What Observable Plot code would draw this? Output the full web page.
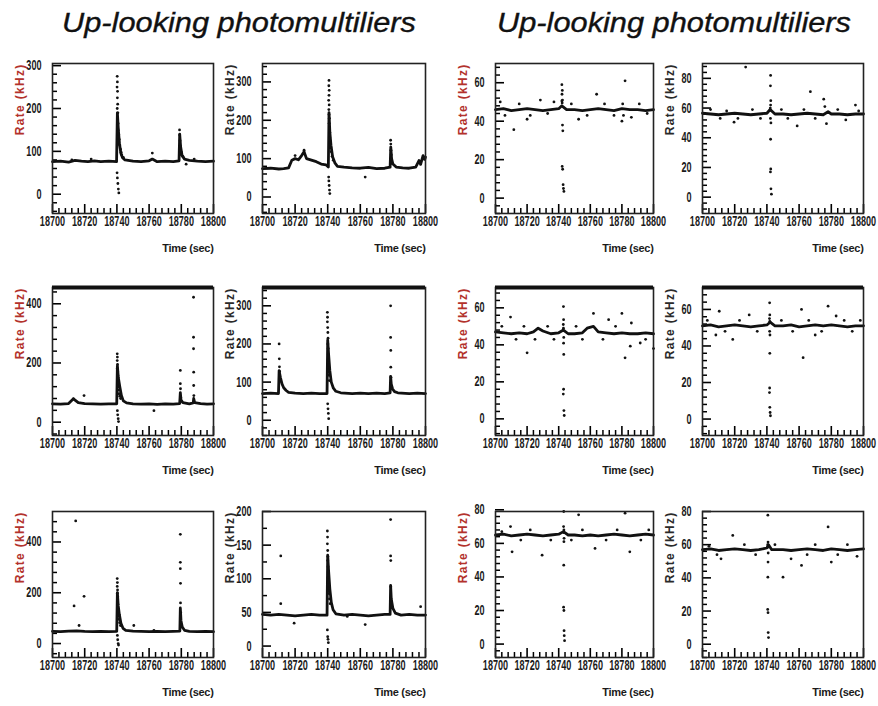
<!DOCTYPE html>
<html><head><meta charset="utf-8">
<script src="https://cdn.jsdelivr.net/npm/d3@7"></script>
<script src="https://cdn.jsdelivr.net/npm/@observablehq/plot@0.6"></script>
<style>
body{margin:0;background:#fff;}
#wrap{width:878px;height:706px;background:#fff;}
</style></head><body><div id="wrap"></div>
<script>
// ---------- text ----------
const titles = ["Up-looking photomultiliers", "Up-looking photomultiliers"];
const yLabel = "Rate (kHz)";
const xLabel = "Time (sec)";
const xTicks = [18700, 18720, 18740, 18760, 18780, 18800];

// ---------- y-axis ranges & tick labels ----------
const dom1 = [-45, 305],  ticks1 = [0, 100, 200, 300];
const dom2 = [-43, 348],  ticks2 = [0, 100, 200, 300];
const dom3 = [-8, 70],    ticks3 = [0, 20, 40, 60];
const dom4 = [-11, 90],   ticks4 = [0, 20, 40, 60, 80];
const dom5 = [-45, 455],  ticks5 = [0, 200, 400];
const dom6 = [-40, 348],  ticks6 = [0, 100, 200, 300];
const dom7 = [-9, 71],    ticks7 = [0, 20, 40, 60];
const dom8 = [-9, 72],    ticks8 = [0, 20, 40, 60];
const dom9 = [-55, 520],  ticks9 = [0, 200, 400];
const dom10 = [-17, 200], ticks10 = [0, 50, 100, 150, 200];
const dom11 = [-8, 79],   ticks11 = [0, 20, 40, 60, 80];
const dom12 = [-8, 80],   ticks12 = [0, 20, 40, 60, 80];
const minorStep = [20, 20, 4, 4, 40, 20, 4, 4, 40, 25, 4, 4];

// ---------- baseline traces [time, rate] ----------
const line1 = [[18700,76],[18705,77],[18710,75],[18714,79],[18718,77],[18722,76],[18726,78],[18730,76],[18735,77],[18739.8,76],[18740.3,190],[18740.9,150],[18741.6,118],[18742.5,95],[18743.5,85],[18745,80],[18750,77],[18755,76],[18760,78],[18762,82],[18765,76],[18770,77],[18775,76],[18778.6,78],[18779,140],[18779.6,110],[18780.5,90],[18782,82],[18785,79],[18790,77],[18795,76],[18800,77]];
const line2 = [[18700,74],[18705,75],[18710,73],[18713,74],[18716,76],[18718,96],[18720,100],[18722,97],[18724,108],[18725.5,118],[18727,100],[18730,96],[18733,92],[18736,86],[18739,84],[18740.4,78],[18740.8,220],[18741.3,170],[18742,135],[18743,105],[18744.5,88],[18746,80],[18750,78],[18755,76],[18760,75],[18765,77],[18770,74],[18775,75],[18778.3,78],[18778.7,130],[18779.2,100],[18780,86],[18782,78],[18786,76],[18790,75],[18794,78],[18796,95],[18797,85],[18798.5,108],[18799.5,98],[18800,104]];
const line3 = [[18700,46],[18705,46.5],[18710,45.5],[18715,46],[18720,46.5],[18725,46],[18730,45.5],[18735,46],[18740,46.5],[18742,48],[18745,46],[18750,46],[18755,45.5],[18760,46],[18765,46.5],[18770,46],[18775,45.5],[18780,46.5],[18785,46],[18790,46],[18795,45.5],[18800,46]];
const line4 = [[18700,56.5],[18705,56],[18710,55.5],[18715,56],[18720,56.5],[18725,56],[18730,55.5],[18735,56],[18740,56.5],[18742,59],[18745,56],[18750,56],[18755,55.5],[18760,56],[18765,56.5],[18770,56],[18775,55.5],[18778,57.5],[18780,56],[18785,56],[18790,55.5],[18795,56],[18800,56]];
const line5 = [[18700,62],[18705,61],[18710,63],[18713,79],[18716,66],[18720,63],[18725,62],[18730,61],[18735,62],[18739.9,62],[18740.3,190],[18740.9,150],[18741.8,120],[18742.8,90],[18744,72],[18746,65],[18750,62],[18755,61],[18760,62],[18765,60],[18770,62],[18775,61],[18779,63],[18779.4,100],[18779.8,75],[18781,66],[18785,62],[18787.4,65],[18787.7,80],[18788.3,66],[18792,63],[18796,61],[18800,62]];
const line6 = [[18700,70],[18705,71],[18709.8,70],[18710.2,130],[18711,112],[18712,95],[18713,85],[18714.5,78],[18716,73],[18720,71],[18725,70],[18730,71],[18735,70],[18739.6,70],[18740,210],[18740.6,170],[18741.3,130],[18742.2,100],[18743.5,84],[18745,76],[18748,72],[18755,70],[18760,71],[18765,70],[18770,71],[18775,70],[18778.3,72],[18778.6,115],[18779,95],[18779.8,82],[18781,75],[18783,72],[18790,70],[18795,71],[18800,70]];
const line7 = [[18700,47],[18705,46.5],[18710,46],[18715,46.5],[18720,46],[18724,47],[18727,49],[18730,47.5],[18735,46],[18740,46.5],[18743,48],[18746,46],[18750,46],[18755,46.5],[18758,49],[18762,50],[18765,47],[18770,46.5],[18775,46],[18780,46.5],[18785,46],[18790,46],[18795,46.5],[18800,46]];
const line8 = [[18700,51],[18705,51.5],[18710,50.5],[18715,51],[18720,51.5],[18725,51],[18730,50.5],[18735,51],[18740,51.5],[18742,53],[18745,51],[18750,51],[18755,51.5],[18760,50.5],[18765,51],[18770,51.5],[18775,51],[18780,51.5],[18785,51],[18790,50.5],[18795,51],[18800,51]];
const line9 = [[18700,48],[18705,47],[18710,49],[18715,50],[18720,48],[18725,47],[18730,48],[18735,47],[18739.9,48],[18740.3,200],[18740.8,150],[18741.5,115],[18742.5,80],[18743.8,60],[18745.5,52],[18750,49],[18755,48],[18760,47],[18765,48],[18770,47],[18775,48],[18779.1,49],[18779.4,140],[18779.8,90],[18780.6,65],[18782,52],[18785,48],[18790,47],[18795,48],[18800,47]];
const line10 = [[18700,47],[18705,46],[18710,47],[18715,46],[18720,45],[18725,46],[18730,47],[18735,46],[18739.6,46],[18740,135],[18740.6,110],[18741.3,85],[18742.2,65],[18743.3,54],[18745,48],[18750,46],[18755,47],[18760,46],[18765,45],[18770,46],[18775,47],[18778.3,47],[18778.6,90],[18779,70],[18780,56],[18781.5,49],[18785,46],[18790,47],[18795,46],[18800,46]];
const line11 = [[18700,65],[18705,65.5],[18710,64.5],[18715,65],[18720,65.5],[18725,65],[18730,64.5],[18735,65],[18740,65.5],[18743,67],[18746,65],[18750,65],[18755,64.5],[18760,65],[18765,64.5],[18770,65],[18775,65.5],[18780,65],[18785,64.5],[18790,65],[18795,65.5],[18800,65]];
const line12 = [[18700,57],[18705,57.5],[18710,56.5],[18715,57],[18720,57.5],[18725,57],[18730,56.5],[18735,57],[18740,58],[18741,60],[18743,57],[18750,57],[18755,56.5],[18760,57],[18765,57.5],[18770,57],[18775,56.5],[18780,57.5],[18785,57],[18790,56.5],[18795,57],[18800,57.5]];

// ---------- individual measurements [time, rate] ----------
const dots1 = [[18740.2,275],[18740.3,262],[18740.1,250],[18740.4,240],[18740.3,225],[18740.5,210],[18740.2,200],[18740.6,190],[18740.4,178],[18740.7,165],[18740.9,150],[18741.1,140],[18741.4,128],[18741.8,115],[18742.2,105],[18742.6,98],[18743,92],[18744,86],[18740.1,50],[18740.3,38],[18740.6,25],[18740.9,12],[18741.2,3],[18778.9,150],[18779,138],[18779.2,125],[18779.4,112],[18780,98],[18781,88],[18762,96],[18724,82],[18712,80],[18783,70],[18788,82]];
const dots2 = [[18740.8,304],[18740.7,290],[18740.9,278],[18740.8,265],[18740.6,252],[18740.9,240],[18740.7,228],[18740.8,215],[18741,205],[18740.9,192],[18741.1,180],[18741.3,168],[18741.2,155],[18741.5,142],[18741.8,130],[18742.2,118],[18742.7,106],[18743.4,96],[18740.6,52],[18740.7,42],[18740.9,30],[18741.1,18],[18741.3,9],[18778.6,148],[18778.7,138],[18778.8,122],[18779,110],[18763,52],[18725.5,122],[18720,108]];
const dots3 = [[18742,59],[18742.3,56],[18742.1,54],[18742.4,51],[18742.2,49.5],[18742,50.5],[18742.6,35],[18742.4,38],[18742.2,16.5],[18742.5,15],[18742.8,7],[18743,5],[18743.3,3.5],[18711.6,35.6],[18782,61],[18764,54],[18752.6,41],[18780,40],[18786,42],[18720,41],[18728.4,51],[18703,50],[18706,43],[18715,49],[18722,43],[18733,44],[18737,50],[18748,49],[18758,43],[18769,49],[18775,43],[18791,49],[18796,44],[18780.5,49],[18781,43]];
const dots4 = [[18742.3,82],[18742.2,75],[18742.4,65],[18742.3,62],[18742.1,60],[18742.4,58.5],[18742.2,53],[18742.5,50],[18742.3,39],[18742.4,19],[18742.2,17],[18742.5,5.6],[18742.8,2],[18726.8,87.6],[18767,71],[18775.3,66],[18719.6,50.5],[18758.8,48],[18777,49.5],[18795,62],[18705,59],[18711,53],[18715,58],[18722,53],[18731,59],[18736,53],[18749,59],[18753,53],[18763,59],[18770,53],[18776,61],[18784,59],[18789,52],[18797,58]];
const dots5 = [[18740.2,231],[18740.3,220],[18740.2,208],[18740.4,195],[18740.3,182],[18740.5,170],[18740.6,158],[18740.5,145],[18740.7,132],[18740.9,120],[18741.1,108],[18741.3,96],[18741.8,88],[18742.3,80],[18740.3,39],[18740.5,25],[18740.8,12],[18741,2],[18779.4,175],[18779.4,130],[18779.5,113],[18779.6,84],[18779.8,73],[18787.6,422],[18787.6,287],[18787.6,248],[18787.7,169],[18787.7,124],[18787.8,90],[18719.6,90],[18763,39],[18713,79]];
const dots6 = [[18710.2,200],[18710.3,161],[18710.4,140],[18710.5,128],[18739.8,283],[18739.9,270],[18739.8,258],[18740,243],[18740.1,230],[18740.2,215],[18740.1,200],[18740.3,188],[18740.4,172],[18740.3,158],[18740.5,145],[18740.6,132],[18740.8,118],[18741,104],[18740,43],[18740.2,30],[18740.4,18],[18740.6,4],[18778.6,300],[18778.6,217],[18778.7,183],[18778.7,139],[18778.8,113]];
const dots7 = [[18743,60.7],[18743.1,53.6],[18742.9,51],[18743,49],[18743.2,44],[18743.1,40.9],[18743.2,34.8],[18743.1,16],[18742.9,13.4],[18743.3,4.5],[18743.5,1.8],[18709.5,55],[18720,35.7],[18762,57],[18771.6,53.6],[18780,57],[18786,51.8],[18785.3,39.3],[18782,33],[18791.6,41],[18800,38],[18704,50],[18713,43],[18718,50],[18725,43],[18733,50],[18737,43],[18751,50],[18755,43],[18768,43],[18776,50],[18795,43]];
const dots8 = [[18741.7,63.6],[18741.8,57],[18741.6,55],[18741.8,53.5],[18741.7,48],[18741.9,46],[18741.8,36],[18741.7,17],[18741.6,14.5],[18741.8,6.4],[18742,3.6],[18742.2,1.8],[18718.8,43.6],[18762.5,33.6],[18761.5,60],[18778,61.8],[18710.4,59],[18729,57],[18708.3,46],[18770,46],[18783,56.4],[18703,54],[18714,48],[18723,54],[18734,48],[18749,54],[18756,48],[18766,54],[18774,48],[18788,54],[18793,48],[18798,54]];
const dots9 = [[18740.2,256],[18740.3,240],[18740.2,225],[18740.4,211],[18740.3,198],[18740.5,185],[18740.4,170],[18740.6,155],[18740.5,140],[18740.8,125],[18741,110],[18741.3,95],[18741.7,82],[18742.2,71],[18740.3,32],[18740.5,15],[18740.8,0],[18741,-6],[18779.4,430],[18779.4,320],[18779.4,295],[18779.5,237],[18779.5,160],[18779.6,122],[18714.4,483],[18713.4,148],[18719.6,186],[18716.5,71],[18750.5,71],[18763,52]];
const dots10 = [[18739.8,171],[18739.9,162],[18739.8,152],[18740,142],[18740.1,133],[18740,127],[18740.2,118],[18740.3,110],[18740.2,102],[18740.4,95],[18740.6,86],[18740.8,78],[18741.1,70],[18741.5,63],[18739.8,24],[18740,14],[18740.2,10],[18740.4,5],[18778.6,188],[18778.6,134],[18778.7,127],[18778.7,88],[18778.8,68],[18711.2,134],[18711.2,63],[18719.4,34],[18763,32],[18797,58.5],[18752,44]];
const dots11 = [[18743.2,79],[18743.1,70],[18743.3,68],[18743.2,66.5],[18743.4,63],[18743.3,61],[18743.2,47],[18743.1,22],[18743.3,20],[18743.4,8],[18743.5,5],[18743.7,2],[18710.5,55],[18729.5,53],[18752.6,77],[18763,57],[18785,55],[18709.5,70],[18782,78],[18704,67],[18716,62],[18722,68],[18735,62],[18748,62],[18755,68],[18770,62],[18777,68],[18792,62],[18797,68]];
const dots12 = [[18740.6,77.8],[18740.7,61.6],[18740.5,60],[18740.6,58.5],[18740.8,55],[18740.7,49.5],[18740.6,40.4],[18740.5,21],[18740.7,19],[18740.8,7],[18741,4],[18718.8,65.6],[18750,40.4],[18761.5,47.5],[18778,70.7],[18780,49.5],[18711.5,51.5],[18755,51.5],[18704,59],[18709,54],[18726,60],[18733,54],[18745,60],[18765,54],[18770,60],[18784,54],[18790,60],[18796,53]];

// ---------- assemble ----------
const lines = [line1,line2,line3,line4,line5,line6,line7,line8,line9,line10,line11,line12];
const dots = [dots1,dots2,dots3,dots4,dots5,dots6,dots7,dots8,dots9,dots10,dots11,dots12];
const doms = [dom1,dom2,dom3,dom4,dom5,dom6,dom7,dom8,dom9,dom10,dom11,dom12];
const ticks = [ticks1,ticks2,ticks3,ticks4,ticks5,ticks6,ticks7,ticks8,ticks9,ticks10,ticks11,ticks12];

// layout (pixel frame edges)
const colL = [52, 262, 495, 702], colR = [213, 425, 653, 863];
const rowT = [63, 287, 511], rowB = [213, 435, 657];

// one outer SVG holding the titles and the 12 Plot charts
const outer = d3.select("#wrap").append("svg")
  .attr("width", 878).attr("height", 706).attr("viewBox", "0 0 878 706")
  .style("display", "block").style("background", "#fff");

[62, 497].forEach((x, i) => {
  outer.append("text").attr("x", x).attr("y", 32)
    .attr("textLength", 354).attr("lengthAdjust", "spacingAndGlyphs")
    .attr("font-family", "'Liberation Sans', Arial, sans-serif")
    .attr("font-style", "italic").attr("font-size", 27).attr("fill", "#111")
    .attr("stroke", "#111").attr("stroke-width", 0.35)
    .text(titles[i]);
});

const xMinor = d3.range(18704, 18800, 4).filter(v => !xTicks.includes(v));
const sans = "'Liberation Sans', Arial, sans-serif";

for (let i = 0; i < 12; i++) {
  const row = Math.floor(i / 4), col = i % 4;
  const L = colL[col], R = colR[col], T = rowT[row], B = rowB[row];
  const fw = R - L, fh = B - T;
  const mL = 50, mR = 22, mT = 12, mB = 50;
  const W = fw + mL + mR, H = fh + mT + mB;
  const dom = doms[i];
  const span = dom[1] - dom[0];
  const step = minorStep[i];
  const yMinor = d3.range(Math.ceil(dom[0] / step) * step, dom[1], step).filter(v => !ticks[i].includes(v));
  const red = col % 2 === 0;
  const yLen = px => dom[0] + span * px / fh;       // inward tick length (x ticks), data units
  const xLen = px => 18700 + 100 * px / fw;          // inward tick length (y ticks), data units
  const marks = [
    Plot.ruleX(xMinor, {x: d => d, y1: dom[0], y2: yLen(5), stroke: "#000", strokeWidth: 1.5}),
    Plot.ruleX(xTicks, {x: d => d, y1: dom[0], y2: yLen(9), stroke: "#000", strokeWidth: 1.6}),
    Plot.ruleY(yMinor, {y: d => d, x1: 18700, x2: xLen(5), stroke: "#000", strokeWidth: 1.5}),
    Plot.ruleY(ticks[i], {y: d => d, x1: 18700, x2: xLen(9), stroke: "#000", strokeWidth: 1.6}),
    Plot.line(lines[i], {x: d => d[0], y: d => d[1], stroke: "#111", strokeWidth: 2.8, strokeLinejoin: "round"}),
    Plot.dot(dots[i], {x: d => d[0], y: d => d[1], r: 1.4, fill: "#111"}),
    Plot.frame({stroke: "#222", strokeWidth: 1.6}),
    Plot.text([yLabel], {text: d => d, frameAnchor: "top-left", rotate: -90, textAnchor: "end", dx: -37,
      fill: red ? "#b3322c" : "#2a2a2a", fontSize: 12, fontWeight: "bold", fontFamily: sans}),
    Plot.text([xLabel], {text: d => d, frameAnchor: "bottom-right", textAnchor: "end", dx: 0, dy: 38,
      fill: "#1a1a1a", fontSize: 11, fontWeight: "bold", fontFamily: sans})
  ];
  if (row === 1) marks.push(Plot.ruleY([dom[1]], {y: d => d, stroke: "#111", strokeWidth: 4}));
  const svg = Plot.plot({
    width: W, height: H,
    marginLeft: mL, marginRight: mR, marginTop: mT, marginBottom: mB,
    style: {background: "transparent", fontFamily: sans, fontSize: "14px", fontWeight: "bold", color: "#1a1a1a"},
    x: {domain: [18700, 18800], ticks: xTicks, tickSize: 0, tickPadding: 3, tickFormat: d => String(d), label: null},
    y: {domain: dom, ticks: ticks[i], tickSize: 0, tickPadding: 11, tickFormat: d => String(d), label: null},
    marks
  });
  const s = d3.select(svg);
  s.selectAll("text").filter(function () { return this.textContent === yLabel; })
    .attr("letter-spacing", 1.3);
  s.selectAll("text").filter(function () { return this.textContent === xLabel; })
    .attr("letter-spacing", -0.3);
  // condensed tick labels (narrow ROOT-style digits)
  s.selectAll("text").each(function () {
    if (/^-?\d+$/.test(this.textContent.trim())) {
      const tr = this.getAttribute("transform") || "";
      this.setAttribute("transform", tr + " scale(0.65,1)");
    }
  });
  // place as a nested svg inside the outer one
  svg.setAttribute("x", L - mL);
  svg.setAttribute("y", T - mT);
  svg.setAttribute("overflow", "visible");
  svg.style.width = W + "px";
  svg.style.height = H + "px";
  svg.style.maxWidth = "none";
  outer.node().appendChild(svg);
}
</script></body></html>
